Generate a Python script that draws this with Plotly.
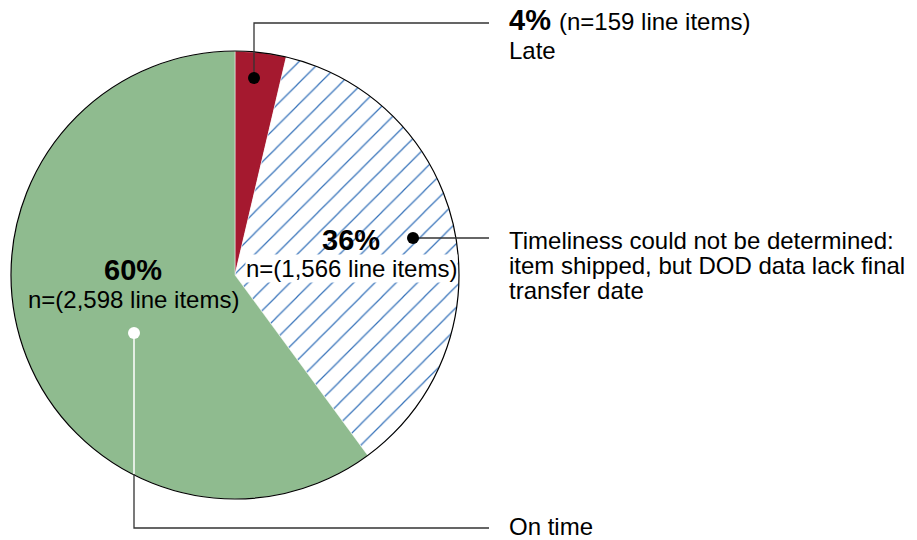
import plotly.graph_objects as go

labels = ["Late", "Timeliness could not be determined", "On time"]
counts = [159, 1566, 2598]
percents = ["4%", "36%", "60%"]
colors = ["#A5192F", "#FFFFFF", "#8FBB8F"]
patterns = ["", "/", ""]

W, H = 917, 540
cx, cy, r = 235, 275, 224

fig = go.Figure()
fig.add_trace(go.Pie(
    labels=labels, values=counts, sort=False, direction="clockwise", rotation=0,
    textinfo="none", hoverinfo="skip", showlegend=False,
    marker=dict(colors=colors, line=dict(color="white", width=0.5),
                pattern=dict(shape=patterns, fgcolor="#3672BA", bgcolor="white",
                             fgopacity=1, size=15, solidity=0.08, fillmode="overlay")),
    domain=dict(x=[(cx - r) / W, (cx + r) / W], y=[(H - cy - r) / H, (H - cy + r) / H]),
))

FONT = "Liberation Sans, Arial, sans-serif"
shapes = [
    dict(type="circle", x0=cx - r, x1=cx + r, y0=cy - r, y1=cy + r,
         line=dict(color="black", width=1.2)),
    # Late leader
    dict(type="path", path="M 254 78 L 254 23 L 489 23", line=dict(color="#333", width=1.3)),
    dict(type="circle", x0=248, x1=260, y0=72, y1=84, fillcolor="black", line=dict(width=0)),
    # Undetermined leader
    dict(type="line", x0=413, x1=489, y0=238, y1=238, line=dict(color="#333", width=1.3)),
    dict(type="circle", x0=407, x1=419, y0=232, y1=244, fillcolor="black", line=dict(width=0)),
    # On time leader
    dict(type="line", x0=134, x1=134, y0=333, y1=474, line=dict(color="white", width=1.5)),
    dict(type="path", path="M 134 474 L 134 528 L 489 528", line=dict(color="#333", width=1.3)),
    dict(type="circle", x0=128, x1=140, y0=327, y1=339, fillcolor="white", line=dict(width=0)),
]
for s in shapes:
    s.update(xref="x", yref="y", layer="above")

ann = []
def A(x, y, text, size, xanchor="left", bold=False, **kw):
    t = f"<b>{text}</b>" if bold else text
    ann.append(dict(x=x, y=y, xref="x", yref="y", text=t, showarrow=False,
                    xanchor=xanchor, yanchor="middle", align="left",
                    font=dict(family=FONT, size=size, color="black"), **kw))

A(507, 20, f"<b>{percents[0]}</b> <span style='font-size:24px'>(n={counts[0]} line items)</span>", 29)
A(507, 50, "Late", 24)
A(507, 240, "Timeliness could not be determined:", 24)
A(507, 265, "item shipped, but DOD data lack final", 24)
A(507, 290, "transfer date", 24)
A(507, 526, "On time", 24)
A(351, 240, percents[1], 29, xanchor="center", bold=True)
A(351, 268, f"n=({counts[1]:,} line items)", 24, xanchor="center", bgcolor="white", borderpad=0)
A(133, 270, percents[2], 29, xanchor="center", bold=True)
A(133, 299, f"n=({counts[2]:,} line items)", 24, xanchor="center")

fig.update_layout(
    width=W, height=H, margin=dict(l=0, r=0, t=0, b=0),
    paper_bgcolor="white", plot_bgcolor="rgba(0,0,0,0)",
    xaxis=dict(range=[0, W], visible=False, fixedrange=True),
    yaxis=dict(range=[H, 0], visible=False, fixedrange=True),
    shapes=shapes, annotations=ann,
)
fig.write_html("out.html", config=dict(displayModeBar=False),
               post_script="document.body.style.margin='0';document.body.style.overflow='hidden';")
